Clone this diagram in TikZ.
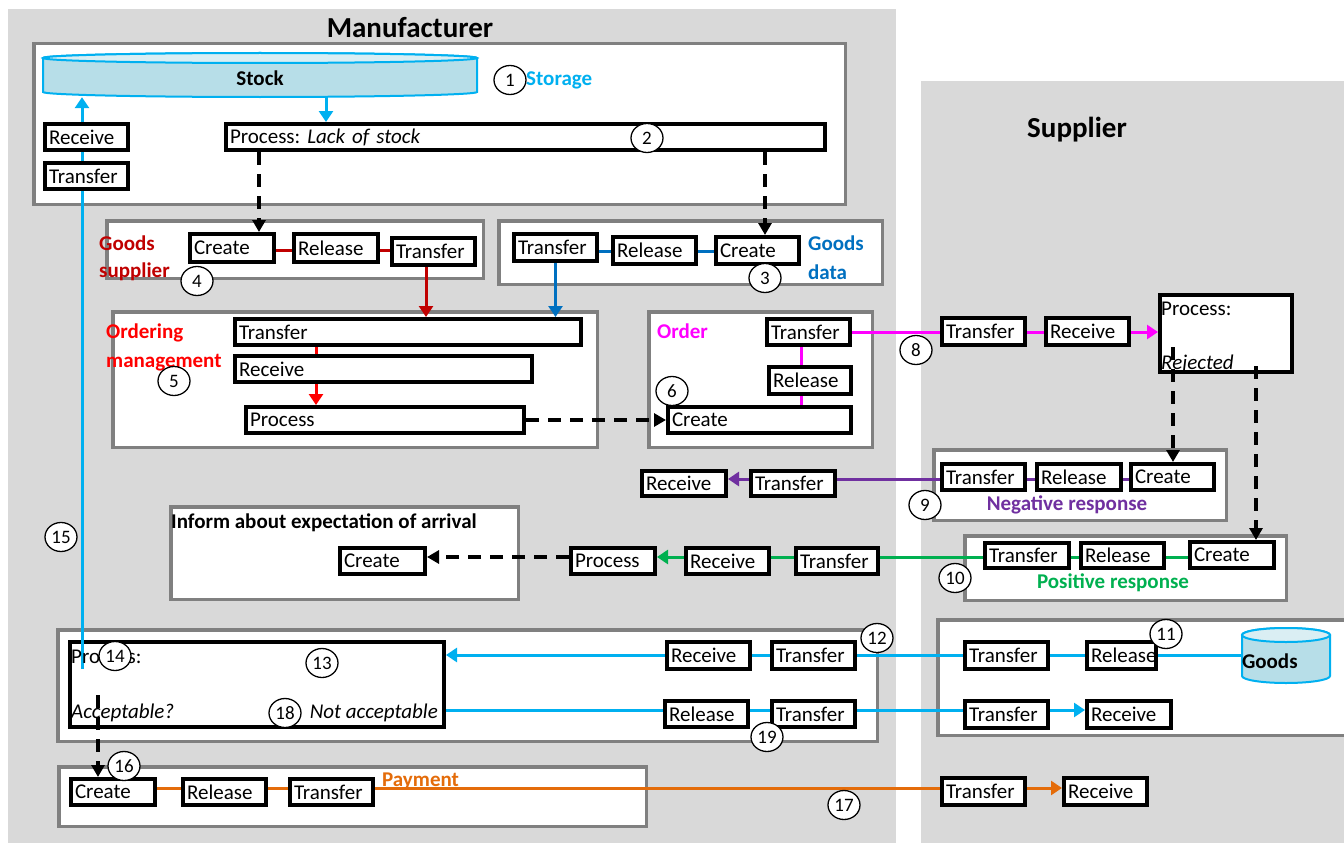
\documentclass[tikz,border=0pt]{standalone}
\usepackage{fontspec}
\setmainfont{Carlito}
\frenchspacing
\usetikzlibrary{arrows.meta,shapes.geometric}
\definecolor{cy}{HTML}{00B0F0}
\definecolor{dred}{HTML}{C00000}
\definecolor{dblue}{HTML}{0070C0}
\definecolor{rd}{HTML}{FF0000}
\definecolor{mag}{HTML}{FF00FF}
\definecolor{purp}{HTML}{7030A0}
\definecolor{grn}{HTML}{00B050}
\definecolor{orng}{HTML}{E46C0A}
\definecolor{bggray}{HTML}{D9D9D9}
\definecolor{frgray}{HTML}{808080}
\definecolor{cylb}{HTML}{B7DEE8}
\definecolor{cylt}{HTML}{DAEEF3}
\pgfdeclarelayer{bg}\pgfdeclarelayer{conn}\pgfdeclarelayer{front}
\pgfsetlayers{bg,conn,main,front}
\newcommand\fs{\fontsize{21}{24}\selectfont}
\newcommand\ft{\fontsize{29}{32}\selectfont}
\newcommand\fn{\fontsize{19}{20}\selectfont}
\tikzset{
  boxst/.style={draw=black, line width=4pt, fill=white, inner xsep=2pt, inner ysep=0pt, font=\fs, align=left},
  frst/.style={draw=frgray, line width=3.5pt, fill=white, inner sep=0pt},
  num/.style={ellipse, draw=black, line width=1.3pt, fill=white, minimum width=32pt, minimum height=29pt, inner sep=0pt, font=\fn},
  lab/.style={font=\fs\bfseries, anchor=west, inner sep=0pt},
  txt/.style={font=\fs, inner sep=0pt},
  cl/.style={line width=3pt},
  arr/.style={-{Triangle[length=11pt,width=14pt]}},
  dsh/.style={line width=3.5pt, dash pattern=on 13pt off 9pt, -{Triangle[length=12pt,width=13pt]}},
}
\newcommand\bx[6]{%
  \pgfmathsetmacro\bxw{#4-#2-4}\pgfmathsetmacro\bxh{#5-#3-4}\pgfmathsetmacro\bxt{#4-#2-12}%
  \pgfmathsetmacro\bxx{(#2+#4)/2}\pgfmathsetmacro\bxy{(#3+#5)/2}%
  \node[boxst, minimum width=\bxw pt, minimum height=\bxh pt, text width=\bxt pt] (#1) at (\bxx,\bxy) {#6};}
\newcommand\fr[5]{%
  \pgfmathsetmacro\bxw{#4-#2-3.5}\pgfmathsetmacro\bxh{#5-#3-3.5}%
  \pgfmathsetmacro\bxx{(#2+#4)/2}\pgfmathsetmacro\bxy{(#3+#5)/2}%
  \node[frst, minimum width=\bxw pt, minimum height=\bxh pt] (#1) at (\bxx,\bxy) {};}
\begin{document}
\begin{tikzpicture}[x=1pt,y=-1pt]
\useasboundingbox (0,0) rectangle (1344,843);
\begin{pgfonlayer}{bg}
  \fill[white] (0,0) rectangle (1344,843);
  \fill[bggray] (8,9) rectangle (896,843);
  \fill[bggray] (921,81) rectangle (1344,843);
  \fr{storfr}{32}{42}{847}{206}
  \fr{gsfr}{105}{219}{485}{280}
  \fr{gdfr}{497}{219}{884}{286}
  \fr{omfr}{111}{310}{599}{449}
  \fr{ordfr}{647}{310}{874}{449}
  \fr{negfr}{932}{448}{1228}{522}
  \fr{posfr}{963}{534}{1288}{602}
  \fr{inffr}{169}{505}{520}{601}
  \fr{accfr}{56}{628}{879}{743}
  \fr{supfr}{936}{618}{1352}{737}
  \fr{payfr}{57}{765}{648}{828}
  % stock cylinder
  \filldraw[draw=cy, fill=cylb, line width=2pt] (43,58) -- (43,92) arc[start angle=180,end angle=0,x radius=217,y radius=5] -- (477,58) arc[start angle=0,end angle=-180,x radius=217,y radius=5] -- cycle;
  \filldraw[draw=cy, fill=cylt, line width=2pt] (260,58) ellipse[x radius=217,y radius=5];
  % goods cylinder
  \filldraw[draw=cy, fill=cylb, line width=2pt] (1242,635) -- (1242,676) arc[start angle=180,end angle=0,x radius=44,y radius=7] -- (1330,635) arc[start angle=0,end angle=-180,x radius=44,y radius=7] -- cycle;
  \filldraw[draw=cy, fill=cylt, line width=2pt] (1286,635) ellipse[x radius=44,y radius=7];
  \bx{accP}{68}{640}{446}{729}{}
\end{pgfonlayer}
% titles and labels
\node[font=\ft\bfseries, inner sep=0pt] (tman) at (410,28) {Manufacturer};
\node[font=\ft\bfseries, inner sep=0pt] (tsup) at (1077,130) {Supplier};
\node[font=\fs\bfseries, minimum width=434pt, minimum height=38pt, inner sep=0pt] (stock) at (260,78) {Stock};
\node[font=\fs\bfseries, minimum width=88pt, minimum height=48pt, inner sep=0pt, text width=88pt, align=left] (gds) at (1286,661) {Goods};
\node[lab, text=cy] (lstor) at (526,80) {Storage};
\node[lab, text=dred] (lgs1) at (99,243) {Goods};
\node[lab, text=dred] (lgs2) at (99,272) {supplier};
\node[lab, text=dblue] (lgd1) at (808,243) {Goods};
\node[lab, text=dblue] (lgd2) at (808,272) {data};
\node[lab, text=rd] (lom1) at (106,333) {Ordering};
\node[lab, text=rd] (lom2) at (106,363) {management};
\node[lab, text=mag] (lord) at (657,331) {Order};
\node[font=\fs\bfseries, text=purp, inner sep=0pt] (lneg) at (1067,505) {Negative response};
\node[font=\fs\bfseries, text=grn, inner sep=0pt] (lpos) at (1113,583) {Positive response};
\node[lab] (linf) at (171,523) {Inform about expectation of arrival};
\node[lab, text=orng] (lpay) at (382,781) {Payment};
% boxes
\bx{rcv1}{43}{122}{130}{152}{Receive}
\bx{trf1}{43}{161}{130}{191}{Transfer}
\bx{lack}{224}{122}{827}{152}{Process: \textit{Lack of stock}}
\bx{gsC}{188}{232}{276}{264}{Create}
\bx{gsR}{292}{232}{380}{264}{Release}
\bx{gsT}{390}{236}{477}{267}{Transfer}
\bx{gdT}{512}{232}{599}{263}{Transfer}
\bx{gdR}{611}{235}{698}{266}{Release}
\bx{gdC}{714}{235}{801}{266}{Create}
\bx{omT}{233}{317}{583}{347}{Transfer}
\bx{omR}{233}{354}{534}{384}{Receive}
\bx{omP}{244}{405}{526}{435}{Process}
\bx{orT}{765}{317}{852}{347}{Transfer}
\bx{orR}{767}{365}{853}{396}{Release}
\bx{orC}{666}{405}{853}{435}{Create}
\bx{s8T}{940}{316}{1027}{347}{Transfer}
\bx{s8R}{1044}{316}{1131}{347}{Receive}
\bx{rej}{1158}{293}{1294}{374}{}
\node[txt, anchor=west] (rejt1) at (1161,309) {Process:};
\node[txt, anchor=west] (rejt2) at (1161,364) {\itshape Rejected};
\bx{ngT}{940}{462}{1027}{492}{Transfer}
\bx{ngR}{1035}{462}{1123}{492}{Release}
\bx{ngC}{1129}{462}{1216}{492}{Create}
\bx{m9T}{749}{469}{837}{498}{Transfer}
\bx{m9R}{640}{469}{728}{498}{Receive}
\bx{psT}{983}{541}{1071}{570}{Transfer}
\bx{psR}{1079}{541}{1166}{570}{Release}
\bx{psC}{1188}{540}{1276}{570}{Create}
\bx{m10T}{794}{546}{880}{576}{Transfer}
\bx{m10R}{684}{546}{771}{576}{Receive}
\bx{m10P}{569}{546}{657}{576}{Process}
\bx{infC}{338}{546}{427}{576}{Create}
\node[txt, anchor=west] (accT1) at (71,657) {Process:};
\node[txt, anchor=west] (accT2) at (71,713) {\itshape Acceptable?};
\node[txt, anchor=east] (accT3) at (438,713) {\itshape Not acceptable};
\bx{m12R}{665}{640}{752}{671}{Receive}
\bx{m12T}{770}{640}{857}{671}{Transfer}
\bx{m19R}{663}{699}{750}{729}{Release}
\bx{m19T}{770}{699}{857}{729}{Transfer}
\bx{s11T}{963}{640}{1050}{671}{Transfer}
\bx{s11R}{1085}{640}{1158}{671}{Release}
\bx{s19T}{963}{699}{1050}{730}{Transfer}
\bx{s19R}{1085}{699}{1173}{730}{Receive}
\bx{pyC}{69}{777}{157}{807}{Create}
\bx{pyR}{181}{777}{268}{807}{Release}
\bx{pyT}{288}{777}{375}{807}{Transfer}
\bx{s17T}{940}{776}{1027}{807}{Transfer}
\bx{s17R}{1062}{776}{1149}{807}{Receive}
% helper coordinates
\coordinate (c15) at (82,669);
\coordinate (x326) at (326,0);
\coordinate (x259) at (259,0);
\coordinate (x765) at (765,0);
\coordinate (x426) at (426,0);
\coordinate (x316) at (316,0);
\coordinate (x801) at (801,0);
\coordinate (r1) at (1173,347);
\coordinate (r2) at (1256,366);
\coordinate (a1) at (98,695);
\coordinate (h250) at (0,250);
\coordinate (h251) at (0,251);
\coordinate (h332) at (0,332);
\coordinate (h479) at (0,479);
\coordinate (h557) at (0,557);
\coordinate (h655) at (0,655);
\coordinate (h710) at (0,710);
\coordinate (h788) at (0,788);
\begin{pgfonlayer}{conn}
  \draw[cl, color=cy, arr] (c15) -- (c15 |- stock.south);
  \draw[cl, color=cy, arr] (x326 |- stock.south) -- (x326 |- lack.north);
  \draw[cl, color=dred] (gsC.east |- h250) -- (gsR.west |- h250);
  \draw[cl, color=dred] (gsR.east |- h250) -- (gsT.west |- h250);
  \draw[cl, color=dred, arr] (x426 |- gsT.south) -- (x426 |- omT.north);
  \draw[cl, color=dblue] (gdT.east |- h251) -- (gdR.west |- h251);
  \draw[cl, color=dblue] (gdR.east |- h251) -- (gdC.west |- h251);
  \draw[cl, color=dblue, arr] (gdT.south) -- (gdT.south |- omT.north);
  \draw[cl, color=rd] (x316 |- omT.south) -- (x316 |- omR.north);
  \draw[cl, color=rd, arr] (x316 |- omR.south) -- (x316 |- omP.north);
  \draw[cl, color=mag] (x801 |- orT.south) -- (x801 |- orR.north);
  \draw[cl, color=mag] (x801 |- orR.south) -- (x801 |- orC.north);
  \draw[cl, color=mag] (orT.east |- h332) -- (s8T.west |- h332);
  \draw[cl, color=mag] (s8T.east |- h332) -- (s8R.west |- h332);
  \draw[cl, color=mag, arr] (s8R.east |- h332) -- (rej.west |- h332);
  \draw[cl, color=purp] (ngC.west |- h479) -- (ngR.east |- h479);
  \draw[cl, color=purp] (ngR.west |- h479) -- (ngT.east |- h479);
  \draw[cl, color=purp] (ngT.west |- h479) -- (m9T.east |- h479);
  \draw[cl, color=purp, arr] (m9T.west |- h479) -- (m9R.east |- h479);
  \draw[cl, color=grn] (psC.west |- h557) -- (psR.east |- h557);
  \draw[cl, color=grn] (psR.west |- h557) -- (psT.east |- h557);
  \draw[cl, color=grn] (psT.west |- h557) -- (m10T.east |- h557);
  \draw[cl, color=grn] (m10T.west |- h557) -- (m10R.east |- h557);
  \draw[cl, color=grn, arr] (m10R.west |- h557) -- (m10P.east |- h557);
  \draw[cl, color=cy] (gds.west |- h655) -- (s11R.east |- h655);
  \draw[cl, color=cy] (s11R.west |- h655) -- (s11T.east |- h655);
  \draw[cl, color=cy] (s11T.west |- h655) -- (m12T.east |- h655);
  \draw[cl, color=cy] (m12T.west |- h655) -- (m12R.east |- h655);
  \draw[cl, color=cy, arr] (m12R.west |- h655) -- (accP.east |- h655);
  \draw[cl, color=cy] (accP.east |- h710) -- (m19R.west |- h710);
  \draw[cl, color=cy] (m19R.east |- h710) -- (m19T.west |- h710);
  \draw[cl, color=cy] (m19T.east |- h710) -- (s19T.west |- h710);
  \draw[cl, color=cy, arr] (s19T.east |- h710) -- (s19R.west |- h710);
  \draw[cl, color=orng] (pyC.east |- h788) -- (pyR.west |- h788);
  \draw[cl, color=orng] (pyR.east |- h788) -- (pyT.west |- h788);
  \draw[cl, color=orng] (pyT.east |- h788) -- (s17T.west |- h788);
  \draw[cl, color=orng, arr] (s17T.east |- h788) -- (s17R.west |- h788);
\end{pgfonlayer}
\begin{pgfonlayer}{front}
  \draw[dsh] (x259 |- lack.south) -- (x259 |- gsC.north);
  \draw[dsh] (x765 |- lack.south) -- (x765 |- gdC.north);
  \draw[dsh] (omP.east) -- (orC.west);
  \draw[dsh] (r1) -- (r1 |- ngC.north);
  \draw[dsh] (r2) -- (r2 |- psC.north);
  \draw[dsh] (m10P.west |- h557) -- (infC.east |- h557);
  \draw[dsh] (a1) -- (a1 |- pyC.north);
  \node[num] (n1) at (510,80) {1};
  \node[num] (n2) at (647,138) {2};
  \node[num] (n3) at (765,278) {3};
  \node[num] (n4) at (197,281) {4};
  \node[num] (n5) at (174,381) {5};
  \node[num] (n6) at (672,391) {6};
  \node[num] (n8) at (916,350) {8};
  \node[num] (n9) at (925,505) {9};
  \node[num] (n10) at (955,578) {10};
  \node[num] (n11) at (1166,634) {11};
  \node[num] (n12) at (877,638) {12};
  \node[num] (n13) at (322,663) {13};
  \node[num] (n14) at (115,656) {14};
  \node[num] (n15) at (61,537) {15};
  \node[num] (n16) at (124,766) {16};
  \node[num] (n17) at (844,805) {17};
  \node[num] (n18) at (285,713) {18};
  \node[num] (n19) at (767,737) {19};
\end{pgfonlayer}
\end{tikzpicture}
\end{document}
